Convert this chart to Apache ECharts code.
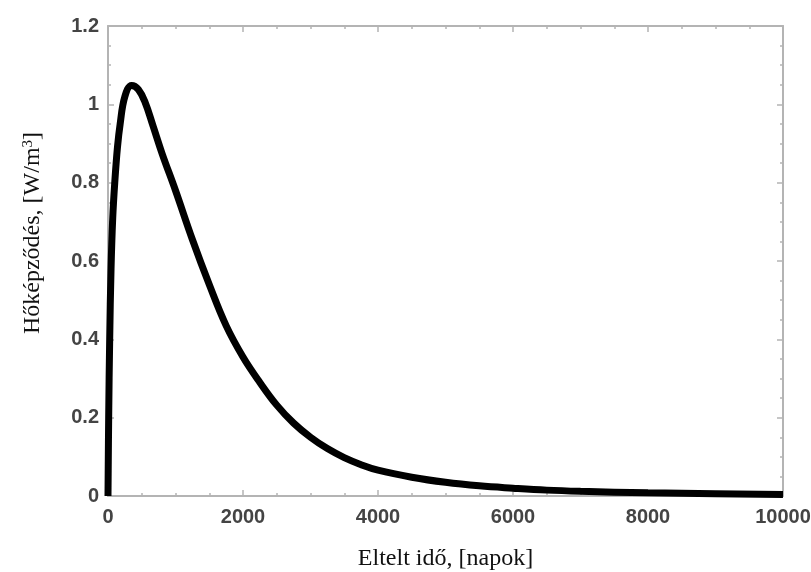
<!DOCTYPE html>
<html>
<head>
<meta charset="utf-8">
<script src="https://cdn.jsdelivr.net/npm/echarts@6/dist/echarts.min.js"></script>
<style>html,body{margin:0;padding:0;background:#fff}#c{width:811px;height:572px}</style>
</head>
<body>
<div id="c"></div>
<script>
// Elapsed time [days]
const days = [0, 10, 25, 45, 70, 100, 140, 180, 250, 350, 450, 550, 667, 800, 1000, 1250, 1500, 1750, 2000, 2250, 2500, 2750, 3000, 3250, 3500, 3750, 4000, 4500, 5000, 5500, 6000, 6500, 7000, 8000, 9000, 10000];
// Heat generation [W/m3]
const heat = [0, 0.20, 0.40, 0.58, 0.71, 0.80, 0.89, 0.95, 1.02, 1.048, 1.038, 1.005, 0.945, 0.875, 0.78, 0.655, 0.54, 0.435, 0.355, 0.29, 0.232, 0.186, 0.15, 0.121, 0.098, 0.08, 0.066, 0.048, 0.035, 0.026, 0.020, 0.015, 0.012, 0.008, 0.006, 0.004];
const xTicks = [0, 2000, 4000, 6000, 8000, 10000];
const yTicks = [0, 0.2, 0.4, 0.6, 0.8, 1, 1.2];
const xName = 'Eltelt idő, [napok]';
const yNameMain = 'Hőképződés, [W/m';
const yNameSup = '3';

const chart = echarts.init(document.getElementById('c'));
const axisGray = '#b4b4b4';
const labelStyle = {color: '#444', fontFamily: 'Liberation Sans, Arial, sans-serif', fontWeight: 'bold', fontSize: 20};
function common() {
  return {
    axisLine: {show: true, onZero: false, lineStyle: {color: axisGray, width: 2}},
    axisTick: {show: true, inside: true, length: 6, lineStyle: {color: axisGray, width: 1.5}},
    minorTick: {show: true, splitNumber: 4, length: 3, lineStyle: {color: axisGray, width: 1.5}},
    splitLine: {show: false}
  };
}
const option = {
  animation: false,
  backgroundColor: '#fff',
  grid: {left: 108, right: 28, top: 26, bottom: 76, containLabel: false, outerBoundsMode: 'none'},
  xAxis: [
    Object.assign({type: 'value', min: xTicks[0], max: xTicks[xTicks.length - 1], interval: 2000, position: 'bottom',
      axisLabel: Object.assign({margin: 11, formatter: v => xTicks.includes(v) ? String(v) : ''}, labelStyle),
      name: xName, nameLocation: 'middle', nameGap: 51,
      nameTextStyle: {fontFamily: 'Liberation Serif, Times New Roman, serif', fontSize: 24, color: '#111'}}, common()),
    Object.assign({type: 'value', min: xTicks[0], max: xTicks[xTicks.length - 1], interval: 2000, position: 'top',
      axisLabel: {show: false}}, common())
  ],
  yAxis: [
    Object.assign({type: 'value', min: 0, max: 1.2, interval: 0.2, position: 'left',
      axisLabel: Object.assign({margin: 9, formatter: v => {const r = Math.round(v * 10) / 10; return yTicks.includes(r) ? String(r) : '';}}, labelStyle)}, common()),
    Object.assign({type: 'value', min: 0, max: 1.2, interval: 0.2, position: 'right',
      axisLabel: {show: false}}, common())
  ],
  graphic: [{
    type: 'text', x: 33, y: 233, rotation: Math.PI / 2,
    style: {
      text: '{m|' + yNameMain + '}{s|' + yNameSup + '}{m|]}',
      align: 'center', verticalAlign: 'middle',
      rich: {
        m: {fontFamily: 'Liberation Serif, Times New Roman, serif', fontSize: 24, fill: '#111', color: '#111'},
        s: {fontFamily: 'Liberation Serif, Times New Roman, serif', fontSize: 15, fill: '#111', color: '#111', verticalAlign: 'top', padding: [0, 0, 10, 0]}
      }
    }
  }],
  series: [{
    type: 'line', xAxisIndex: 0, yAxisIndex: 0,
    data: days.map((d, i) => [d, heat[i]]),
    smooth: 0.4, showSymbol: false, symbol: 'none', clip: false,
    lineStyle: {color: '#000', width: 7}
  }]
};
chart.setOption(option);
</script>
</body>
</html>
